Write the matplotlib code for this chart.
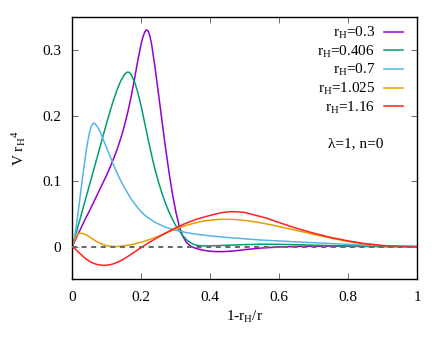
import numpy as np
import matplotlib
matplotlib.use('Agg')
import matplotlib.pyplot as plt

plt.rcParams['font.family'] = ['Liberation Serif', 'DejaVu Serif']
plt.rcParams['mathtext.fontset'] = 'custom'
plt.rcParams['mathtext.rm'] = 'Liberation Serif'
plt.rcParams['mathtext.it'] = 'Liberation Serif:italic'
plt.rcParams['font.size'] = 11

# r_H = 0.3
x_03 = [0, .01, .02, .03, .04, .05, .06, .07, .08, .09, .10, .11, .12, .13, .14, .15, .16, .17,
        .18, .19, .20, .205, .21, .215, .22, .225, .23, .24, .25, .26, .27, .28, .29, .30, .31,
        .32, .33, .34, .35, .36, .38, .40, .42, .44, .47, .50, .55, .60, .65, .70, .80, .90, 1.0]
y_03 = [0, .012, .023, .034, .045, .055, .066, .077, .088, .099, .110, .122, .135, .149, .165,
        .183, .204, .228, .256, .285, .311, .321, .328, .331, .329, .321, .308, .272, .232, .191,
        .151, .114, .081, .053, .031, .016, .007, .002, -.001, -.003, -.0055, -.007, -.0076,
        -.0075, -.0065, -.0045, -.002, -.0005, .0003, .0006, .0005, .0002, 0]

# r_H = 0.406
x_0406 = [0, .01, .02, .03, .04, .05, .06, .07, .08, .09, .10, .11, .12, .13, .14, .15, .155, .16,
          .165, .17, .18, .19, .20, .21, .22, .23, .24, .25, .26, .27, .28, .29, .30, .31, .32,
          .33, .34, .35, .36, .38, .40, .45, .50, .55, .60, .65, .70, .80, .90, 1.0]
y_0406 = [0, .019, .038, .057, .076, .095, .114, .133, .152, .171, .190, .208, .225, .240, .253,
          .262, .265, .2667, .266, .263, .252, .235, .213, .188, .163, .139, .117, .098, .081,
          .066, .053, .042, .032, .024, .017, .011, .007, .004, .002, .001, .0012, .0022, .0032,
          .0038, .0036, .003, .0022, .001, .0003, 0]

# r_H = 0.7
x_07 = [0, .0025, .005, .0075, .01, .0125, .015, .02, .025, .03, .035, .04, .045, .05, .055, .06,
        .0626, .065, .07, .075, .08, .09, .10, .11, .12, .13, .14, .15, .16, .17, .18, .19, .20,
        .21, .22, .24, .26, .28, .30, .33, .36, .40, .45, .50, .55, .60, .65, .70, .75, .80, .85,
        .90, .95, 1.0]
y_07 = [0, .006, .012, .019, .027, .036, .046, .066, .087, .108, .127, .146, .162, .175, .184,
        .188, .1887, .188, .185, .181, .176, .163, .150, .137, .124, .112, .101, .091, .082, .073,
        .066, .059, .053, .048, .044, .037, .032, .028, .025, .0215, .019, .0164, .014, .012,
        .010, .0087, .0073, .006, .0047, .0035, .0024, .0015, .0006, 0]

# r_H = 1.025
x_1025 = [0, .005, .01, .015, .02, .025, .03, .035, .04, .05, .06, .07, .08, .09, .10, .11, .12,
          .13, .14, .15, .17, .19, .21, .23, .25, .27, .29, .31, .33, .35, .37, .39, .41, .43,
          .45, .47, .49, .51, .54, .57, .60, .65, .70, .75, .80, .85, .90, .95, 1.0]
y_1025 = [0, .009, .015, .0185, .0202, .0205, .0202, .0192, .018, .0148, .0113, .008, .0052,
          .003, .0015, .0006, .0002, .0002, .0006, .0013, .003, .0055, .0085, .012, .016, .0205,
          .025, .029, .0325, .0355, .038, .0398, .041, .0418, .0419, .0415, .0406, .0394, .037,
          .034, .0306, .0248, .0187, .013, .0078, .0038, .0013, .0002, 0]

# r_H = 1.16
x_116 = [0, .01, .02, .03, .04, .05, .06, .07, .08, .09, .10, .11, .12, .13, .14, .15, .16, .17,
         .18, .19, .20, .21, .22, .24, .26, .28, .30, .32, .34, .36, .38, .40, .42, .44, .46,
         .48, .50, .53, .56, .60, .65, .70, .75, .80, .85, .90, .95, 1.0]
y_116 = [0, -.0045, -.0095, -.0145, -.019, -.0225, -.0252, -.027, -.028, -.0285, -.0283, -.0275,
         -.026, -.024, -.0215, -.0185, -.0152, -.0118, -.0083, -.0047, -.0012, .0022, .0055,
         .0118, .0178, .0235, .0288, .0337, .038, .0418, .045, .0478, .0505, .0525, .0535,
         .0532, .0522, .048, .044, .0367, .028, .0205, .014, .0087, .0045, .0017, .0004, 0]

series = [
    (x_03, y_03, 'r$_\\mathrm{H}$=0.3', '#9400D3'),
    (x_0406, y_0406, 'r$_\\mathrm{H}$=0.406', '#009E73'),
    (x_07, y_07, 'r$_\\mathrm{H}$=0.7', '#56B4E9'),
    (x_1025, y_1025, 'r$_\\mathrm{H}$=1.025', '#E69F00'),
    (x_116, y_116, 'r$_\\mathrm{H}$=1.16', '#FF2020'),
]

xticks = [0, 0.2, 0.4, 0.6, 0.8, 1.0]
xticklabels = ['0', '0.2', '0.4', '0.6', '0.8', '1']
yticks = [0, 0.1, 0.2, 0.3]
yticklabels = ['0', '0.1', '0.2', '0.3']

fig = plt.figure(figsize=(4.44, 3.42), dpi=100)
ax = fig.add_axes([0.163, 0.183, 0.777, 0.766])

for xs, ys, lab, col in series:
    ax.plot(xs, ys, color=col, lw=1.1, label=lab)

# zero reference line
ax.plot([0, 1], [0, 0], color='#6a6a6a', lw=1.5, ls=(0, (2.4, 2.2)), zorder=5)

ax.set_xlim(0, 1)
ax.set_ylim(-0.05, 0.35)
ax.set_xticks(xticks)
ax.set_xticklabels(xticklabels)
ax.set_yticks(yticks)
ax.set_yticklabels(yticklabels)
ax.tick_params(direction='in', top=True, right=True, length=4, width=0.6, color='#555555',
               labelsize=11, pad=8)
for s in ax.spines.values():
    s.set_linewidth(1.0)

ax.set_xlabel('1-r$_\\mathrm{H}$/r', fontsize=11, labelpad=4)
ax.set_ylabel('V r$_\\mathrm{H}$$^4$', fontsize=11, labelpad=10)

ax.legend(loc='upper right', bbox_to_anchor=(0.975, 0.995), frameon=False, markerfirst=False,
          handlelength=1.2, handletextpad=0.6, labelspacing=0.17, fontsize=11, borderaxespad=0)

ax.text(0.82, 0.52, '\u03bb=1, n=0', transform=ax.transAxes, ha='center', va='center', fontsize=11)

fig.savefig('out.png', dpi=100)
